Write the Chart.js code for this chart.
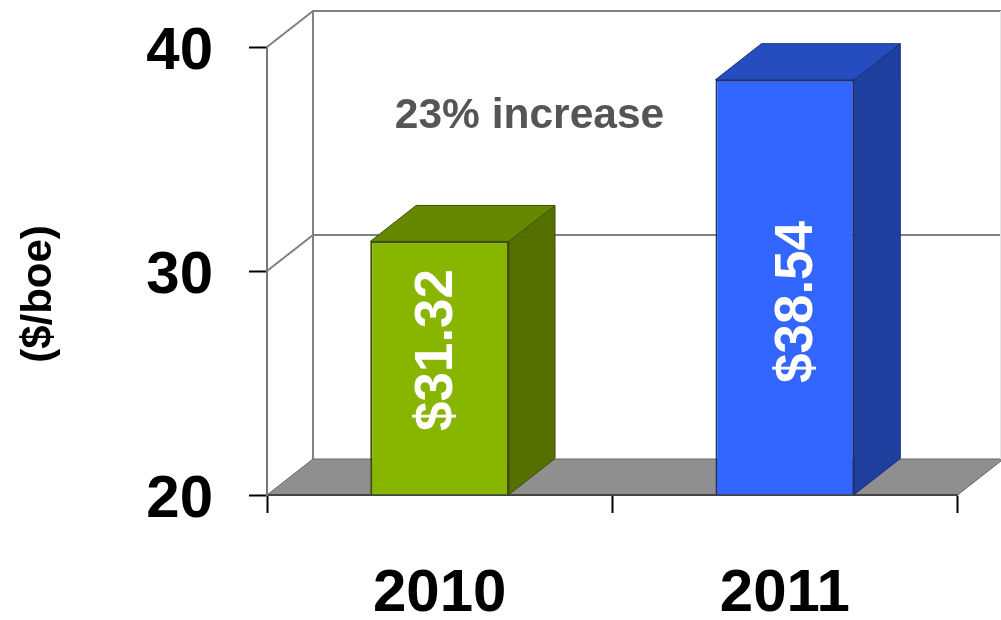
<!DOCTYPE html>
<html>
<head>
<meta charset="utf-8">
<title>Cost per boe</title>
<script src="https://cdn.jsdelivr.net/npm/chart.js@4"></script>
<style>
  html, body { margin: 0; padding: 0; background: #fff; overflow: hidden; }
  canvas { display: block; }
</style>
</head>
<body>
<canvas id="costChart" width="1001" height="620"></canvas>
<script>
const years = ['2010', '2011'];
const costs = [31.32, 38.54];
const costLabels = ['$31.32', '$38.54'];
const yMin = 20;
const yMax = 40;
const yStep = 10;
const yTitle = '($/boe)';
const note = '23% increase';

const faceColors = ['#88b500', '#3366ff'];
const edgeColors = ['#3d5000', '#1a2f78'];
const sideColors = ['#567000', '#1f3f9f'];
const topColors = ['#668700', '#264dbf'];

const FONT = '"Liberation Sans", Arial, sans-serif';
const depthX = 46;
const depthY = 36;

// back walls and floor of the 3D box, taken from the scales
const wallsPlugin = {
    id: 'walls',
    beforeDraw(chart) {
        const { ctx, chartArea: a, scales } = chart;
        const y = scales.y;
        const backLeft = a.left + depthX;

        ctx.save();
        ctx.fillStyle = '#8f8f8f';
        ctx.strokeStyle = '#666';
        ctx.lineWidth = 1;
        ctx.beginPath();
        ctx.moveTo(a.left, a.bottom);
        ctx.lineTo(backLeft, a.bottom - depthY);
        ctx.lineTo(a.right + depthX, a.bottom - depthY);
        ctx.lineTo(a.right, a.bottom);
        ctx.closePath();
        ctx.fill();
        ctx.stroke();

        ctx.strokeStyle = '#808080';
        ctx.lineWidth = 2;
        y.ticks.forEach(t => {
            if (t.value === yMin) return;
            const py = y.getPixelForValue(t.value);
            ctx.beginPath();
            ctx.moveTo(a.left, py);
            ctx.lineTo(backLeft, py - depthY);
            ctx.lineTo(chart.width, py - depthY);
            ctx.stroke();
        });
        ctx.beginPath();
        ctx.moveTo(backLeft, a.top - depthY);
        ctx.lineTo(backLeft, a.bottom - depthY);
        ctx.stroke();

        ctx.strokeStyle = '#e6e6e6';
        ctx.lineWidth = 1;
        ctx.beginPath();
        ctx.moveTo(chart.width - 0.5, a.top - depthY);
        ctx.lineTo(chart.width - 0.5, a.bottom - depthY);
        ctx.stroke();
        ctx.restore();
    }
};

// side and top faces of the bars
const barSidesPlugin = {
    id: 'barSides',
    beforeDatasetsDraw(chart) {
        const { ctx } = chart;
        chart.getDatasetMeta(0).data.forEach((bar, i) => {
            const right = bar.x + bar.width / 2;
            const left = bar.x - bar.width / 2;
            const top = bar.y;
            const base = bar.base;

            ctx.save();
            ctx.strokeStyle = edgeColors[i];
            ctx.lineWidth = 1;

            ctx.fillStyle = sideColors[i];
            ctx.beginPath();
            ctx.moveTo(right, base);
            ctx.lineTo(right + depthX, base - depthY);
            ctx.lineTo(right + depthX, top - depthY);
            ctx.lineTo(right, top);
            ctx.closePath();
            ctx.fill();
            ctx.stroke();

            ctx.fillStyle = topColors[i];
            ctx.beginPath();
            ctx.moveTo(left, top);
            ctx.lineTo(left + depthX, top - depthY);
            ctx.lineTo(right + depthX, top - depthY);
            ctx.lineTo(right, top);
            ctx.closePath();
            ctx.fill();
            ctx.stroke();
            ctx.restore();
        });
    }
};

const textPlugin = {
    id: 'texts',
    afterDatasetsDraw(chart) {
        const { ctx } = chart;
        ctx.save();
        ctx.textAlign = 'center';
        ctx.textBaseline = 'middle';

        // value labels run up the bars
        ctx.fillStyle = '#fff';
        ctx.font = 'bold 53px ' + FONT;
        chart.getDatasetMeta(0).data.forEach((bar, i) => {
            ctx.save();
            ctx.translate(bar.x + (i === 0 ? -2 : 13), i === 0 ? 350 : 302);
            ctx.rotate(-Math.PI / 2);
            ctx.fillText(costLabels[i], 0, 0);
            ctx.restore();
        });

        ctx.fillStyle = '#555';
        ctx.font = 'bold 42.5px ' + FONT;
        ctx.fillText(note, 529.5, 116);

        ctx.fillStyle = '#000';
        ctx.font = 'bold 42px ' + FONT;
        ctx.translate(39, 294);
        ctx.rotate(-Math.PI / 2);
        ctx.fillText(yTitle, 0, 0);
        ctx.restore();
    }
};

new Chart(document.getElementById('costChart'), {
    type: 'bar',
    data: {
        labels: years,
        datasets: [{
            data: costs,
            base: yMin,
            backgroundColor: faceColors,
            borderColor: edgeColors,
            borderWidth: 2,
            barPercentage: 0.402,
            categoryPercentage: 1
        }]
    },
    options: {
        responsive: false,
        animation: false,
        layout: { padding: { top: 47, right: 43.5, left: 0, bottom: 0 } },
        plugins: { legend: { display: false }, tooltip: { enabled: false } },
        scales: {
            x: {
                afterFit(scale) {
                    scale.height = 125;
                    scale.paddingLeft = 0;
                    scale.paddingRight = 0;
                },
                border: { color: '#444', width: 2 },
                grid: { offset: true, drawOnChartArea: false, tickLength: 18, tickColor: '#000', tickWidth: 2 },
                ticks: {
                    color: '#000',
                    padding: 45,
                    maxRotation: 0,
                    font: { family: FONT, size: 60, weight: 'bold' }
                }
            },
            y: {
                min: yMin,
                max: yMax,
                afterFit(scale) {
                    scale.width = 267;
                    scale.paddingTop = 0;
                    scale.paddingBottom = 0;
                },
                border: { color: '#777', width: 2 },
                grid: { drawOnChartArea: false, tickLength: 18, tickColor: '#000', tickWidth: 2 },
                ticks: {
                    stepSize: yStep,
                    color: '#000',
                    padding: 36,
                    labelOffset: 5,
                    font: { family: FONT, size: 60, weight: 'bold' }
                }
            }
        }
    },
    plugins: [wallsPlugin, barSidesPlugin, textPlugin]
});
</script>
</body>
</html>
